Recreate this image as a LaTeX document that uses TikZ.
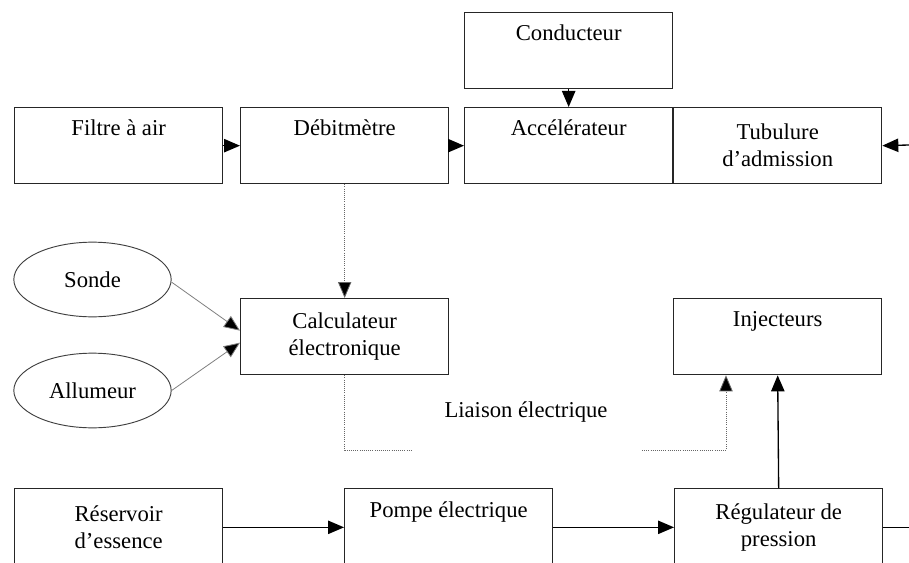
\documentclass[tikz,border=0pt]{standalone}
\usepackage{fontspec}
\setmainfont{Liberation Serif}
\usetikzlibrary{arrows.meta,shapes.geometric}
\newcommand{\apos}{{\char"0027}}
\begin{document}
\begin{tikzpicture}[x=0.75pt,y=-0.75pt,
  box/.style={draw=black!85,line width=1pt,rectangle,anchor=north west,
    minimum width=156pt,minimum height=57pt,inner sep=0pt,align=center,
    font=\fontsize{17}{20.3}\selectfont},
  oval/.style={draw=black!75,line width=0.7pt,ellipse,inner sep=0pt,
    minimum width=118pt,minimum height=56pt,font=\fontsize{17}{20.3}\selectfont},
  tip/.style={-{Triangle[length=12pt,width=10pt,fill=black]}},
  arr/.style={line width=1pt,tip},
  dotl/.style={draw=black!60,line width=0.6pt,densely dotted},
  darr/.style={dotl,tip},
  thinarr/.style={draw=black!50,line width=0.6pt,tip}]
\useasboundingbox (0,0) rectangle (909,563);
\fill[white] (0,0) rectangle (909,563);
% top row
\node[box] (cond) at (464,12) {Conducteur\\\strut};
\node[box] (filtre) at (14,107) {Filtre à air\\\strut};
\node[box] (debit) at (240,107) {Débitmètre\\\strut};
\node[box] (accel) at (464,107) {Accélérateur\\\strut};
\node[box] (tub) at (673,107) {Tubulure\\d\apos admission};
% middle
\node[oval] (sonde) at (92.5,279.5) {Sonde};
\node[oval] (allum) at (92.5,390.5) {Allumeur};
\node[box] (calc) at (240,298) {Calculateur\\électronique};
\node[box] (inj) at (673,298) {Injecteurs\\\strut};
\node[font=\fontsize{17}{20.3}\selectfont] (liais) at (526,412) {Liaison électrique};
% bottom row (cut by the lower edge)
\node[box,minimum height=58pt] (res) at (14,488) {Réservoir\\d\apos essence};
\node[box,minimum height=58pt] (pompe) at (344,488) {Pompe électrique\\\strut};
\node[box,minimum height=58pt] (reg) at (674,488) {Régulateur de\\pression};
% free ends
\coordinate (tin) at (909,145);
\coordinate (l1) at (411,450);
\coordinate (l2) at (642,450);
\coordinate (l3) at (726,450);
% connectors
\draw[arr] (filtre.east) -- (debit.west);
\draw[arr] (debit.east) -- (accel.west);
\draw[arr] (cond.south) -- (accel.north);
\draw[arr] (tin) -- (tub.east);
\draw[darr] (debit.south) -- (calc.north);
\draw[thinarr] ([yshift=-2pt]sonde.east) -- ([yshift=4.5pt]calc.west);
\draw[thinarr] (allum.east) -- ([yshift=-4.5pt]calc.west);
\draw[dotl] (calc.south) |- (l1);
\draw[darr] (l2) -- (l3) -- (l3 |- inj.south);
\draw[arr] (res.east) -- (pompe.west);
\draw[arr] (pompe.east) -- (reg.west);
\draw[arr] (reg.north) -- (inj.south);
\draw[line width=1pt] (reg.east) -- (reg.east -| tin);
\end{tikzpicture}
\end{document}
